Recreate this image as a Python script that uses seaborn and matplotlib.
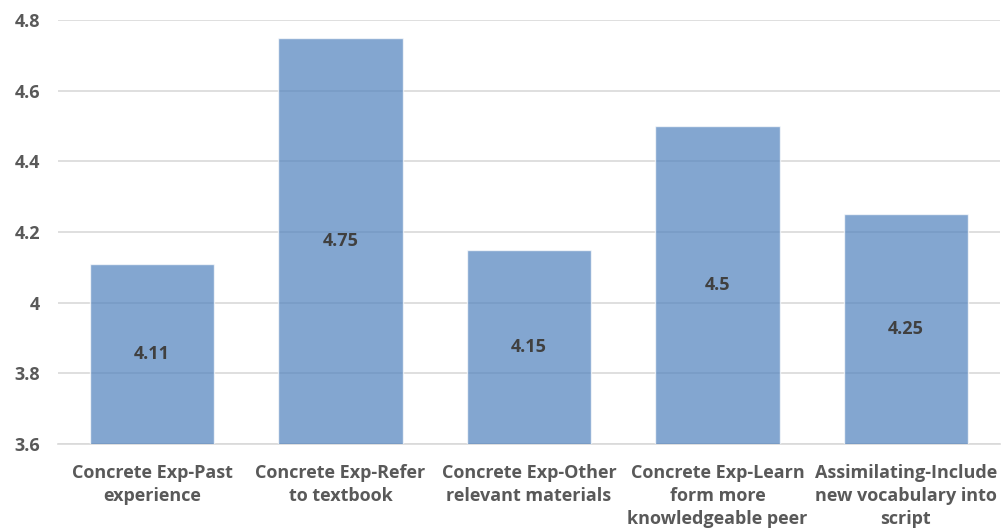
import numpy as np
import pandas as pd
import matplotlib
matplotlib.use('Agg')
import matplotlib.pyplot as plt
import seaborn as sns

categories = ['Concrete Exp-Past\nexperience',
              'Concrete Exp-Refer\nto textbook',
              'Concrete Exp-Other\nrelevant materials',
              'Concrete Exp-Learn\nform more\nknowledgeable peer',
              'Assimilating-Include\nnew vocabulary into\nscript']
scores = [4.11, 4.75, 4.15, 4.5, 4.25]
y_ticks = [3.6, 3.8, 4.0, 4.2, 4.4, 4.6, 4.8]
y_tick_labels = ['3.6', '3.8', '4', '4.2', '4.4', '4.6', '4.8']

df = pd.DataFrame({'category': categories, 'score': scores})

sns.set_style('white')
plt.rcParams['font.family'] = ['Open Sans', 'DejaVu Sans']

fig = plt.figure(figsize=(10.04, 5.30), dpi=100)
ax = fig.add_axes([0.0578, 0.1623, 0.9382, 0.80])

sns.barplot(x='category', y='score', data=df, color='#4f81bd',
            saturation=1, width=0.66, alpha=0.7, ax=ax, zorder=3)

ax.set_ylim(3.6, 4.8)
ax.set_yticks(y_ticks)
ax.set_yticklabels(y_tick_labels)
ax.yaxis.grid(True, color='#d9d9d9', linewidth=1.2, zorder=1)
ax.set_axisbelow(True)
for s in ['top', 'right', 'left']:
    ax.spines[s].set_visible(False)
ax.spines['bottom'].set_color('#d9d9d9')
ax.spines['bottom'].set_linewidth(1.2)
ax.set_xlabel('')
ax.set_ylabel('')
ax.tick_params(axis='both', length=0)
ax.tick_params(axis='y', pad=13)
ax.tick_params(axis='x', pad=14.5)
for lbl in ax.get_yticklabels():
    lbl.set_fontsize(13)
    lbl.set_fontweight('bold')
    lbl.set_color('#595959')
for lbl in ax.get_xticklabels():
    lbl.set_fontsize(13)
    lbl.set_fontweight('bold')
    lbl.set_color('#595959')
    lbl.set_linespacing(1.34)
    lbl.set_verticalalignment('top')

ax.bar_label(ax.containers[0], labels=[f'{v:g}' for v in scores],
             label_type='center', fontsize=13, fontweight='bold',
             color='#404040')

plt.savefig('out.png', dpi=100)
